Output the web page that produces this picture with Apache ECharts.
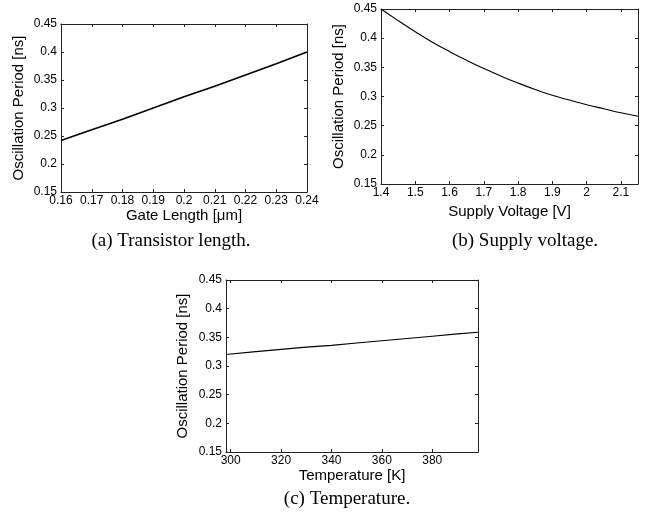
<!DOCTYPE html>
<html>
<head>
<meta charset="utf-8">
<script src="https://cdn.jsdelivr.net/npm/echarts@6/dist/echarts.min.js"></script>
<style>
  html, body { margin: 0; padding: 0; background: #fff; }
  #main { width: 645px; height: 518px; }
</style>
</head>
<body>
<div id="main"></div>
<script>
// (a) gate length sweep
const gateLength = [0.16, 0.17, 0.18, 0.19, 0.20, 0.21, 0.22, 0.23, 0.24];
const periodGate = [0.242, 0.261, 0.280, 0.300, 0.320, 0.339, 0.359, 0.379, 0.400];
// (b) supply voltage sweep
const supplyVoltage = [1.40, 1.45, 1.50, 1.55, 1.60, 1.65, 1.70, 1.75, 1.80, 1.85, 1.90, 1.95, 2.00, 2.05, 2.10, 2.15];
const periodVdd = [0.450, 0.430, 0.411, 0.393, 0.377, 0.362, 0.348, 0.335, 0.323, 0.312, 0.302, 0.294, 0.286, 0.279, 0.272, 0.266];
// (c) temperature sweep
const temperature = [298.15, 310, 320, 330, 340, 350, 360, 370, 380, 390, 398.15];
const periodTemp = [0.320, 0.325, 0.329, 0.333, 0.336, 0.340, 0.344, 0.348, 0.352, 0.356, 0.359];

const gateTicks = [0.16, 0.17, 0.18, 0.19, 0.2, 0.21, 0.22, 0.23, 0.24];
const vddTicks = [1.4, 1.5, 1.6, 1.7, 1.8, 1.9, 2, 2.1];
const tempTicks = [300, 320, 340, 360, 380];

const yName = "Oscillation Period [ns]";
const captions = ["(a) Transistor length.", "(b) Supply voltage.", "(c) Temperature."];

const sans = "Liberation Sans, Arial, sans-serif";
const serif = "Liberation Serif, Times New Roman, serif";
const lineCol = "#222";

const chart = echarts.init(document.getElementById("main"));

function pairs(xs, ys) {
	return xs.map((x, i) => [x, ys[i]]);
}

// bottom / left axes carry labels, top / right only ticks (matlab box)
function xAxes(grid, min, max, ticks, name, gap) {
	const base = {
		type: "value",
		gridIndex: grid,
		min: min,
		max: max,
		splitLine: { show: false },
		axisLine: { lineStyle: { color: lineCol, width: 1 } },
		axisTick: { inside: true, length: 3, customValues: ticks, lineStyle: { color: lineCol } },
	};
	return [
		Object.assign({}, base, {
			position: "bottom",
			name: name,
			nameLocation: "middle",
			nameGap: gap,
			nameTextStyle: { fontFamily: sans, fontSize: 15, color: "#000" },
			axisLabel: { customValues: ticks, fontFamily: sans, fontSize: 12, color: "#000", margin: 3 },
		}),
		Object.assign({}, base, {
			position: "top",
			axisLabel: { show: false },
		}),
	];
}

function yAxes(grid, gap) {
	const base = {
		type: "value",
		gridIndex: grid,
		min: 0.15,
		max: 0.45,
		interval: 0.05,
		splitLine: { show: false },
		axisLine: { lineStyle: { color: lineCol, width: 1 } },
		axisTick: { inside: true, length: 3, lineStyle: { color: lineCol } },
	};
	return [
		Object.assign({}, base, {
			position: "left",
			name: yName,
			nameLocation: "middle",
			nameGap: gap,
			nameTextStyle: { fontFamily: sans, fontSize: 15, color: "#000" },
			axisLabel: { fontFamily: sans, fontSize: 12, color: "#000", margin: 4 },
		}),
		Object.assign({}, base, {
			position: "right",
			axisLabel: { show: false },
		}),
	];
}

const capStyle = { fontFamily: serif, fontSize: 19, fontWeight: "normal", color: "#000" };

const option = {
	backgroundColor: "#fff",
	animation: false,
	grid: [
		{ left: 61, top: 24, width: 246, height: 168 },
		{ left: 381, top: 9, width: 257, height: 175 },
		{ left: 226, top: 280, width: 252, height: 172 },
	],
	title: [
		{ text: captions[0], left: 166, top: 227, textAlign: "center", textStyle: capStyle },
		{ text: captions[1], left: 520, top: 227, textAlign: "center", textStyle: capStyle },
		{ text: captions[2], left: 342, top: 485, textAlign: "center", textStyle: capStyle },
	],
	xAxis: [
		...xAxes(0, 0.16, 0.24, gateTicks, "Gate Length [\u03bcm]", 16),
		...xAxes(1, 1.4, 2.15, vddTicks, "Supply Voltage [V]", 20),
		...xAxes(2, 298.15, 398.15, tempTicks, "Temperature [K]", 13),
	],
	yAxis: [
		...yAxes(0, 35),
		...yAxes(1, 35),
		...yAxes(2, 36),
	],
	series: [
		{
			type: "line",
			xAxisIndex: 0,
			yAxisIndex: 0,
			data: pairs(gateLength, periodGate),
			showSymbol: false,
			lineStyle: { color: "#000", width: 1.6 },
		},
		{
			type: "line",
			xAxisIndex: 2,
			yAxisIndex: 2,
			data: pairs(supplyVoltage, periodVdd),
			smooth: true,
			showSymbol: false,
			lineStyle: { color: "#000", width: 1.1 },
		},
		{
			type: "line",
			xAxisIndex: 4,
			yAxisIndex: 4,
			data: pairs(temperature, periodTemp),
			showSymbol: false,
			lineStyle: { color: "#000", width: 1.1 },
		},
	],
};

chart.setOption(option);
</script>
</body>
</html>
